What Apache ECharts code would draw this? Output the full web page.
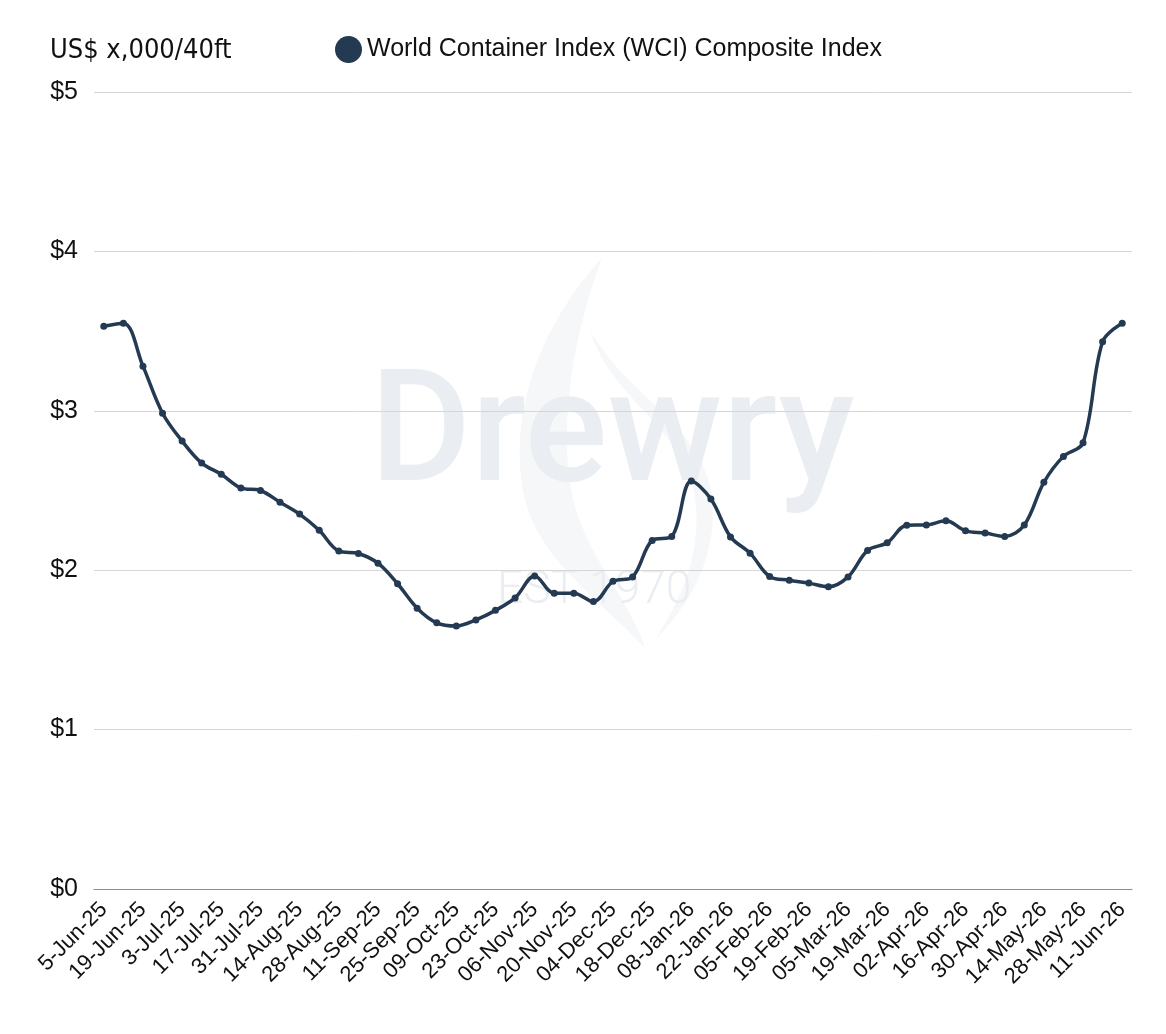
<!DOCTYPE html>
<html>
<head>
<meta charset="utf-8">
<title>World Container Index</title>
<script src="https://cdn.jsdelivr.net/npm/echarts@6/dist/echarts.min.js"></script>
<style>
  html, body { margin: 0; padding: 0; background: #fff; }
  #chart { width: 1166px; height: 1034px; }
</style>
</head>
<body>
<div id="chart"></div>
<script>
// 周期（每周，圣诞后跳过一周）
const weeks = [
  "5-Jun-25", "12-Jun-25", "19-Jun-25", "26-Jun-25", "3-Jul-25", "10-Jul-25",
  "17-Jul-25", "24-Jul-25", "31-Jul-25", "7-Aug-25", "14-Aug-25", "21-Aug-25",
  "28-Aug-25", "4-Sep-25", "11-Sep-25", "18-Sep-25", "25-Sep-25", "02-Oct-25",
  "09-Oct-25", "16-Oct-25", "23-Oct-25", "30-Oct-25", "06-Nov-25", "13-Nov-25",
  "20-Nov-25", "27-Nov-25", "04-Dec-25", "11-Dec-25", "18-Dec-25", "01-Jan-26",
  "08-Jan-26", "15-Jan-26", "22-Jan-26", "29-Jan-26", "05-Feb-26", "12-Feb-26",
  "19-Feb-26", "26-Feb-26", "05-Mar-26", "12-Mar-26", "19-Mar-26", "26-Mar-26",
  "02-Apr-26", "09-Apr-26", "16-Apr-26", "23-Apr-26", "30-Apr-26", "07-May-26",
  "14-May-26", "21-May-26", "28-May-26", "04-Jun-26", "11-Jun-26"
];
// WCI 综合指数（US$ 千/40ft）
const wci = [
  3.53, 3.55, 3.28, 2.985, 2.81, 2.672, 2.602, 2.516, 2.50, 2.426, 2.352, 2.25,
  2.12, 2.105, 2.044, 1.915, 1.762, 1.67, 1.65, 1.688, 1.748, 1.826, 1.964, 1.855,
  1.856, 1.803, 1.93, 1.958, 2.187, 2.212, 2.559, 2.446, 2.209, 2.107, 1.96, 1.937,
  1.919, 1.896, 1.958, 2.124, 2.172, 2.282, 2.284, 2.31, 2.247, 2.233, 2.212, 2.283,
  2.551, 2.714, 2.799, 3.433, 3.55
];
const seriesName = "World Container Index (WCI) Composite Index";
const unitLabel = "US$ x,000/40ft";
const yTicks = [0, 1, 2, 3, 4, 5];

const navy = "#243a52";
const font = "'Liberation Sans', Arial, sans-serif";
const wm = "#eaedf1";

// 水印火焰（内联 svg）
const flameSvg =
  '<svg xmlns="http://www.w3.org/2000/svg" width="240" height="400" viewBox="490 250 240 400">' +
  '<path fill="#f6f7f8" d="M602 258 C545 320 505 410 525 500 C540 560 600 600 645 648 C630 600 585 555 572 495 C558 420 575 330 602 258 Z"/>' +
  '<path fill="#f6f7f8" d="M590 330 C610 400 690 430 696 505 C700 560 680 600 655 640 C695 600 718 550 712 495 C702 425 625 395 590 330 Z"/>' +
  "</svg>";
const flameUrl = "data:image/svg+xml;charset=utf-8," + encodeURIComponent(flameSvg);

const chart = echarts.init(document.getElementById("chart"));
chart.setOption({
  backgroundColor: "#fff",
  animation: false,
  title: {
    text: unitLabel,
    left: 45,
    top: 32,
    textStyle: {
      fontFamily: "'Liberation Sans Narrow', 'DejaVu Sans Condensed', sans-serif",
      fontSize: 27,
      fontWeight: "normal",
      color: "#111",
    },
  },
  legend: {
    left: 330,
    top: 31,
    data: [seriesName],
    icon: "circle",
    itemWidth: 27,
    itemHeight: 27,
    itemGap: 13,
    textStyle: { fontFamily: font, fontSize: 25, color: "#111" },
  },
  graphic: [
    {
      type: "image",
      z: -10,
      left: 490,
      top: 250,
      style: { image: flameUrl, width: 240, height: 400 },
    },
    {
      type: "text",
      z: -9,
      left: 370,
      top: 364,
      style: {
        text: "Drewry",
        fontFamily: "Roboto, sans-serif",
        fontWeight: 500,
        fontSize: 155,
        fill: wm,
      },
    },
    {
      type: "text",
      z: -9,
      left: 497,
      top: 568,
      style: {
        text: "EST 1970",
        fontFamily: "Roboto, sans-serif",
        fontWeight: 300,
        fontSize: 46,
        fill: wm,
      },
    },
  ],
  grid: {
    left: 94,
    right: 34,
    top: 92,
    bottom: 145,
  },
  xAxis: {
    type: "category",
    data: weeks,
    boundaryGap: true,
    axisLine: { show: true, lineStyle: { color: "#8c8c8c", width: 1.2 } },
    axisTick: { show: false },
    axisLabel: {
      interval: 1,
      rotate: 45,
      margin: 17,
      fontFamily: font,
      fontSize: 22,
      color: "#111",
    },
  },
  yAxis: {
    type: "value",
    min: yTicks[0],
    max: yTicks[yTicks.length - 1],
    interval: 1,
    axisLine: { show: false },
    axisTick: { show: false },
    splitLine: { lineStyle: { color: "#d6d6d6", width: 1 } },
    axisLabel: {
      margin: 16,
      fontFamily: font,
      fontSize: 25,
      color: "#111",
      formatter: (v) => "$" + v,
    },
  },
  series: [
    {
      name: seriesName,
      type: "line",
      data: wci,
      smooth: 0.35,
      symbol: "circle",
      symbolSize: 7,
      lineStyle: { color: navy, width: 3.5 },
      itemStyle: { color: navy },
      z: 3,
    },
  ],
});
</script>
</body>
</html>
